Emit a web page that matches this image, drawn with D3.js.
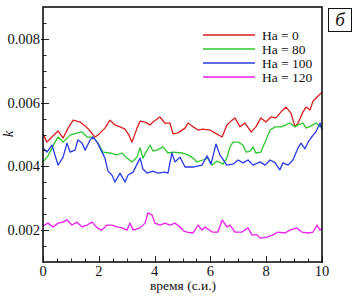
<!DOCTYPE html>
<html><head><meta charset="utf-8">
<script src="https://cdn.jsdelivr.net/npm/d3@7"></script>
<style>body{margin:0;background:#fff}svg{display:block}
text{font-family:"Liberation Serif","Times New Roman",serif;fill:#111}</style>
</head><body><svg id="c" width="353" height="296"></svg>
<script>
const seriesNames = ["Ha = 0", "Ha = 80", "Ha = 100", "Ha = 120"];
const xTicks = [0, 2, 4, 6, 8, 10];
const yTicks = [0.002, 0.004, 0.006, 0.008];
const xLabel = "время (с.и.)";
const yLabel = "k";
const panelLabel = "б";

const tHa0 = [0,0.14,0.32,0.54,0.72,0.90,1.08,1.33,1.51,1.69,1.86,1.97,2.22,2.40,2.58,2.76,2.94,3.08,3.19,3.37,3.48,3.66,3.84,3.94,4.19,4.37,4.55,4.66,4.84,5.09,5.20,5.38,5.56,5.73,5.99,6.16,6.42,6.59,6.74,6.88,7.06,7.24,7.46,7.63,7.81,7.99,8.17,8.35,8.53,8.71,8.89,9.03,9.14,9.32,9.43,9.57,9.68,9.86,10];
const kHa0 = [0.00502,0.00476,0.00492,0.00511,0.00489,0.00520,0.00545,0.00539,0.00527,0.00511,0.00492,0.00498,0.00520,0.00545,0.00530,0.00524,0.00517,0.00498,0.00476,0.00520,0.00542,0.00539,0.00530,0.00539,0.00555,0.00536,0.00536,0.00502,0.00505,0.00520,0.00536,0.00524,0.00514,0.00517,0.00514,0.00505,0.00492,0.00530,0.00542,0.00552,0.00524,0.00536,0.00508,0.00524,0.00552,0.00539,0.00555,0.00552,0.00571,0.00586,0.00567,0.00524,0.00536,0.00571,0.00586,0.00577,0.00605,0.00621,0.00633];

const tHa80 = [0,0.18,0.43,0.54,0.72,0.97,1.22,1.40,1.58,1.79,1.97,2.15,2.40,2.65,2.83,3.01,3.19,3.37,3.48,3.58,3.73,3.84,3.94,4.09,4.30,4.48,4.66,4.98,5.20,5.38,5.52,5.73,5.91,6.06,6.24,6.45,6.59,6.70,6.81,6.99,7.17,7.28,7.42,7.53,7.63,7.81,7.99,8.14,8.32,8.53,8.71,8.85,9.03,9.14,9.32,9.43,9.61,9.79,9.93,10];
const kHa80 = [0.00414,0.00433,0.00476,0.00492,0.00476,0.00498,0.00505,0.00508,0.00492,0.00492,0.00473,0.00445,0.00442,0.00436,0.00442,0.00426,0.00414,0.00429,0.00458,0.00426,0.00451,0.00467,0.00448,0.00451,0.00461,0.00442,0.00445,0.00442,0.00436,0.00426,0.00414,0.00420,0.00426,0.00404,0.00417,0.00407,0.00426,0.00461,0.00476,0.00476,0.00467,0.00445,0.00448,0.00461,0.00442,0.00445,0.00483,0.00514,0.00524,0.00524,0.00530,0.00536,0.00524,0.00530,0.00536,0.00520,0.00527,0.00536,0.00524,0.00530];

const tHa100 = [0,0.14,0.32,0.54,0.72,0.86,0.97,1.15,1.25,1.40,1.51,1.69,1.79,1.94,2.04,2.22,2.33,2.47,2.58,2.76,2.94,3.05,3.23,3.37,3.48,3.58,3.73,3.94,4.12,4.37,4.48,4.62,4.73,4.91,5.09,5.38,5.70,5.88,6.02,6.20,6.34,6.59,6.81,6.99,7.17,7.35,7.53,7.78,7.96,8.14,8.32,8.49,8.60,8.78,8.96,9.14,9.25,9.39,9.50,9.68,9.78,9.93,10];
const kHa100 = [0.00458,0.00445,0.00467,0.00404,0.00429,0.00473,0.00445,0.00451,0.00483,0.00473,0.00451,0.00483,0.00492,0.00476,0.00458,0.00426,0.00385,0.00373,0.00351,0.00379,0.00351,0.00373,0.00382,0.00407,0.00426,0.00392,0.00379,0.00385,0.00379,0.00382,0.00379,0.00442,0.00414,0.00429,0.00398,0.00398,0.00404,0.00433,0.00407,0.00470,0.00436,0.00404,0.00407,0.00420,0.00411,0.00420,0.00404,0.00414,0.00404,0.00420,0.00411,0.00389,0.00411,0.00404,0.00420,0.00458,0.00473,0.00455,0.00476,0.00498,0.00508,0.00536,0.00514];

const tHa120 = [0,0.18,0.36,0.54,0.72,0.86,1.04,1.22,1.40,1.58,1.76,1.94,2.11,2.29,2.47,2.65,2.83,3.01,3.12,3.23,3.48,3.66,3.76,3.91,4.01,4.19,4.37,4.55,4.73,4.91,5.05,5.16,5.38,5.56,5.70,5.81,6.06,6.27,6.42,6.59,6.70,6.88,7.13,7.35,7.49,7.67,7.78,8.03,8.24,8.42,8.67,8.85,9.10,9.28,9.50,9.68,9.82,9.93,10];
const kHa120 = [0.00213,0.00222,0.00210,0.00222,0.00225,0.00232,0.00216,0.00225,0.00210,0.00216,0.00225,0.00207,0.00200,0.00216,0.00216,0.00210,0.00207,0.00200,0.00222,0.00200,0.00207,0.00222,0.00254,0.00247,0.00222,0.00216,0.00222,0.00216,0.00222,0.00210,0.00197,0.00194,0.00191,0.00216,0.00200,0.00210,0.00194,0.00194,0.00232,0.00210,0.00216,0.00194,0.00194,0.00207,0.00185,0.00185,0.00175,0.00178,0.00185,0.00194,0.00191,0.00200,0.00207,0.00194,0.00191,0.00194,0.00216,0.00200,0.00207];

const seriesT = [tHa0, tHa80, tHa100, tHa120];
const seriesK = [kHa0, kHa80, kHa100, kHa120];
const colors = ["#d81e1e", "#2ec82e", "#2a3ae8", "#ee1cee"];

const svg = d3.select("#c");
const L = 43, R = 322, T = 7, B = 262;
const x = d3.scaleLinear().domain([0, 10]).range([L, R]);
const y = d3.scaleLinear().domain([0.001, 0.009]).range([B, T]);

// series
const line = d3.line().x(d => x(d[0])).y(d => y(d[1]));
seriesT.forEach((ts, i) => {
  const pts = ts.map((t, j) => [t, seriesK[i][j]]);
  svg.append("path").attr("d", line(pts)).attr("fill", "none")
    .attr("stroke", colors[i]).attr("stroke-width", 1.3).attr("stroke-linejoin", "round");
});

// minor + major ticks
const yMinor = d3.range(0.0015, 0.009, 0.0005).filter(v => !yTicks.some(t => Math.abs(t - v) < 1e-7));
const xMinor = d3.range(0.5, 10, 0.5).filter(v => !xTicks.some(t => Math.abs(t - v) < 1e-7));
const g = svg.append("g").attr("stroke", "#222").attr("stroke-width", 1);
yMinor.forEach(v => g.append("line").attr("x1", L).attr("x2", L + 3.5).attr("y1", Math.round(y(v)) + 0.5).attr("y2", Math.round(y(v)) + 0.5));
xMinor.forEach(v => g.append("line").attr("y1", B).attr("y2", B - 3.5).attr("x1", Math.round(x(v)) + 0.5).attr("x2", Math.round(x(v)) + 0.5));
yTicks.forEach(v => g.append("line").attr("x1", L - 2).attr("x2", L + 6).attr("y1", Math.round(y(v)) + 0.5).attr("y2", Math.round(y(v)) + 0.5));
xTicks.forEach(v => g.append("line").attr("y1", B + 1).attr("y2", B - 6).attr("x1", Math.round(x(v)) + 0.5).attr("x2", Math.round(x(v)) + 0.5));

// frame
svg.append("rect").attr("x", L).attr("y", T).attr("width", R - L).attr("height", B - T)
  .attr("fill", "none").attr("stroke", "#111").attr("stroke-width", 1.6);

// tick labels
svg.append("g").selectAll("text").data(yTicks).join("text")
  .attr("x", L - 3).attr("y", d => y(d) + 5).attr("text-anchor", "end")
  .style("font-size", "14.5px").text(d3.format(".3f"));
svg.append("g").selectAll("text").data(xTicks).join("text")
  .attr("x", d => x(d)).attr("y", B + 14).attr("text-anchor", "middle")
  .style("font-size", "14.5px").text(d => d);

// axis titles
svg.append("text").attr("x", 183).attr("y", 289.5).attr("text-anchor", "middle")
  .style("font-size", "13.5px").text(xLabel);
svg.append("text").attr("transform", "translate(13,134) rotate(-90)").attr("text-anchor", "middle")
  .style("font-style", "italic").style("font-size", "15px").text(yLabel);

// legend
const lg = svg.append("g");
seriesNames.forEach((n, i) => {
  const yy = 35 + i * 14;
  lg.append("line").attr("x1", 203).attr("x2", 255).attr("y1", yy).attr("y2", yy)
    .attr("stroke", colors[i]).attr("stroke-width", 1.3);
  lg.append("text").attr("x", 262).attr("y", yy + 4.5)
    .style("font-size", "13.5px").text(n);
});

// panel label
svg.append("rect").attr("x", 328.5).attr("y", 8.5).attr("width", 23).attr("height", 23)
  .attr("fill", "none").attr("stroke", "#111").attr("stroke-width", 1);
svg.append("text").attr("x", 340).attr("y", 26).attr("text-anchor", "middle")
  .style("font-style", "italic").style("font-size", "19px").text(panelLabel);
</script></body></html>
